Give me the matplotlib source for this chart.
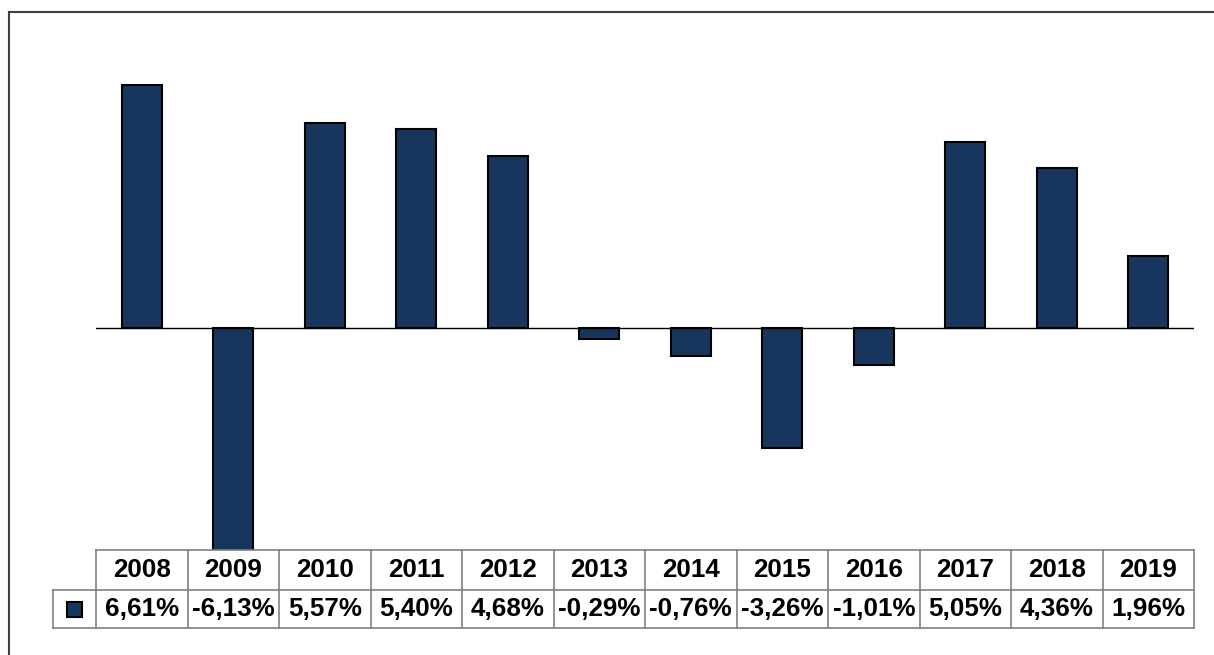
import matplotlib
matplotlib.use("Agg")
import matplotlib.pyplot as plt
from matplotlib.patches import Rectangle
from matplotlib.lines import Line2D

years = ["2008", "2009", "2010", "2011", "2012", "2013", "2014", "2015", "2016", "2017", "2018", "2019"]
values = [6.61, -6.13, 5.57, 5.40, 4.68, -0.29, -0.76, -3.26, -1.01, 5.05, 4.36, 1.96]
labels = ["6,61%", "-6,13%", "5,57%", "5,40%", "4,68%", "-0,29%", "-0,76%", "-3,26%", "-1,01%", "5,05%", "4,36%", "1,96%"]

W, H = 1214, 655
BAR = "#17365D"
GRID = "#808080"
plt.rcParams['font.family'] = ['Liberation Sans', 'DejaVu Sans']

fig = plt.figure(figsize=(W / 100, H / 100), dpi=100)

def fx(px):
    return px / W

def fy(py):
    return 1 - py / H

# outer border
fig.add_artist(Line2D([fx(9), fx(9)], [fy(12), -0.1], color="#404040", lw=1.5, transform=fig.transFigure))
fig.add_artist(Line2D([fx(9), 1.1], [fy(12), fy(12)], color="#404040", lw=1.5, transform=fig.transFigure))

ax = fig.add_axes([fx(96), fy(550), fx(1194) - fx(96), fy(30) - fy(550)])
x = list(range(len(years)))
ax.bar(x, values, width=0.44, color=BAR, edgecolor="black", linewidth=1.5, zorder=2)
ax.axhline(0, color="black", lw=1, zorder=3)
ax.set_xlim(-0.5, len(years) - 0.5)
ax.set_ylim(-(550 - 328) / 36.8, (328 - 30) / 36.8)
ax.axis("off")

# table
tax = fig.add_axes([fx(96), fy(628), fx(1194) - fx(96), fy(550) - fy(628)])
tax.set_xlim(-0.5, len(years) - 0.5)
tax.set_ylim(0, 78)
tax.axis("off")
n = len(years)
leg_left = -0.5 - 43 / 91.5
kw = dict(color=GRID, lw=1.2, clip_on=False)
# horizontal lines
tax.plot([-0.5, n - 0.5], [78, 78], **kw)
tax.plot([leg_left, n - 0.5], [38, 38], **kw)
tax.plot([leg_left, n - 0.5], [0, 0], **kw)
# vertical lines
for i in range(n + 1):
    tax.plot([i - 0.5, i - 0.5], [0, 78], **kw)
tax.plot([leg_left, leg_left], [0, 38], **kw)

fs = 18.7
for i in range(n):
    tax.text(i, 58, years[i], ha="center", va="center", fontsize=fs, fontweight="bold", clip_on=False)
    tax.text(i, 19, labels[i], ha="center", va="center", fontsize=fs, fontweight="bold", clip_on=False)

# legend key
kx = (leg_left + -0.5) / 2
kw_ = 15 / 91.5
tax.add_patch(Rectangle((kx - kw_ / 2, 19 - 7.5), kw_, 15, facecolor=BAR, edgecolor="black", lw=1.5, clip_on=False))

fig.savefig("out.png", dpi=100)
